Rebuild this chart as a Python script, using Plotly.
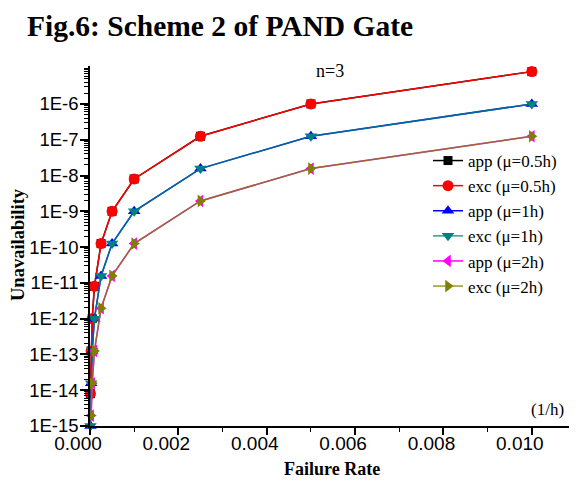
import plotly.graph_objects as go

# Data
failure_rate = [1e-5, 2.5e-5, 5e-5, 1e-4, 2.5e-4, 5e-4, 1e-3, 2.5e-3, 5e-3, 1e-2]
app_mu05 = [8e-15, 1.25e-13, 1e-12, 8e-12, 1.25e-10, 1e-9, 8e-9, 1.25e-7, 1e-6, 8e-6]
exc_mu05 = [8e-15, 1.25e-13, 1e-12, 8e-12, 1.25e-10, 1e-9, 8e-9, 1.25e-7, 1e-6, 8e-6]
app_mu1 = [1e-15, 1.56e-14, 1.25e-13, 1e-12, 1.56e-11, 1.25e-10, 1e-9, 1.56e-8, 1.25e-7, 1e-6]
exc_mu1 = [1e-15, 1.56e-14, 1.25e-13, 1e-12, 1.56e-11, 1.25e-10, 1e-9, 1.56e-8, 1.25e-7, 1e-6]
app_mu2 = [None, 1.95e-15, 1.56e-14, 1.25e-13, 1.95e-12, 1.56e-11, 1.25e-10, 1.95e-9, 1.56e-8, 1.25e-7]
exc_mu2 = [None, 1.95e-15, 1.56e-14, 1.25e-13, 1.95e-12, 1.56e-11, 1.25e-10, 1.95e-9, 1.56e-8, 1.25e-7]

names = ["app (μ=0.5h)", "exc (μ=0.5h)", "app (μ=1h)", "exc (μ=1h)", "app (μ=2h)", "exc (μ=2h)"]
series = [app_mu05, exc_mu05, app_mu1, exc_mu1, app_mu2, exc_mu2]
line_colors = ["#000000", "#FF0000", "#0000FF", "rgba(0,128,128,0.8)", "#FF00FF", "rgba(128,128,0,0.8)"]
marker_colors = ["#000000", "#FF0000", "#0000FF", "#008080", "#FF00FF", "#808000"]
symbols = ["square", "circle", "triangle-up", "triangle-down", "triangle-left", "triangle-right"]
sizes = [9, 11, 11, 11, 11, 11]

x_ticks = [0.0, 0.002, 0.004, 0.006, 0.008, 0.010]
x_ticktext = ["0.000", "0.002", "0.004", "0.006", "0.008", "0.010"]
y_ticks = [1e-15, 1e-14, 1e-13, 1e-12, 1e-11, 1e-10, 1e-9, 1e-8, 1e-7, 1e-6]
y_ticktext = ["1E-15", "1E-14", "1E-13", "1E-12", "1E-11", "1E-10", "1E-9", "1E-8", "1E-7", "1E-6"]

SERIF = "Liberation Serif"
SANS = "Liberation Sans"

# the page body has an 8px default margin; the figure is sized to fit the window
OFF = 8
PL, PR, PT, PB = 90, 576, 66, 426  # plot area in window pixels
W, H = 577 - OFF, 484 - OFF


def px(xw):
    return (xw - PL) / (PR - PL)


def py(yw):
    return (PB - yw) / (PB - PT)


fig = go.Figure()
for name, ys, lc, mc, sym, sz in zip(names, series, line_colors, marker_colors, symbols, sizes):
    fig.add_trace(go.Scatter(
        x=failure_rate, y=ys, name=name, mode="lines+markers",
        line=dict(color=lc, width=1.5),
        marker=dict(color=mc, symbol=sym, size=sz, line=dict(width=0)),
        cliponaxis=False,
    ))

minor_y = [m * 10.0 ** e for e in range(-15, -4) for m in range(2, 10)] + [1e-5]

fig.update_layout(
    width=W, height=H,
    margin=dict(l=PL - OFF, r=W - (PR - OFF), t=PT - OFF, b=H - (PB - OFF), autoexpand=False),
    paper_bgcolor="white", plot_bgcolor="white",
    showlegend=True,
    legend=dict(
        x=px(428), y=py(143), xanchor="left", yanchor="top",
        font=dict(family=SERIF, size=17, color="black"),
        bgcolor="rgba(0,0,0,0)", borderwidth=0,
        tracegroupgap=0,
    ),
    xaxis=dict(
        range=[0, 0.011], showgrid=False, zeroline=False, automargin=False,
        showline=True, linecolor="black", linewidth=1.5,
        ticks="outside", ticklen=7, tickwidth=1.5, tickcolor="black",
        tickvals=x_ticks, ticktext=x_ticktext,
        tickfont=dict(family=SANS, size=19, color="black"),
        ticklabelshift=-12, ticklabelstandoff=-8,
        minor=dict(dtick=0.001, ticks="outside", ticklen=4, tickwidth=1, tickcolor="black", showgrid=False),
    ),
    yaxis=dict(
        type="log", range=[-15, -4.94], showgrid=False, zeroline=False, automargin=False,
        showline=True, linecolor="black", linewidth=1.5,
        ticks="outside", ticklen=8, tickwidth=1.5, tickcolor="black",
        tickvals=y_ticks, ticktext=y_ticktext,
        tickfont=dict(family=SANS, size=18.5, color="black"),
        ticklabelstandoff=-2,
        minor=dict(tickmode="array", tickvals=minor_y, ticks="outside", ticklen=4,
                   tickwidth=1, tickcolor="black", showgrid=False),
    ),
    annotations=[
        dict(text="<b>Fig.6: Scheme 2 of PAND Gate</b>", xref="paper", yref="paper",
             x=px(25), y=py(8), xanchor="left", yanchor="top",
             showarrow=False, font=dict(family=SERIF, size=29.5, color="black")),
        dict(text="n=3", xref="paper", yref="paper",
             x=px(329.5), y=py(71), xanchor="center", yanchor="middle",
             showarrow=False, font=dict(family=SERIF, size=18, color="black")),
        dict(text="(1/h)", xref="paper", yref="paper",
             x=px(547.5), y=py(409), xanchor="center", yanchor="middle",
             showarrow=False, font=dict(family=SERIF, size=17, color="black")),
        dict(text="<b>Failure Rate</b>", xref="paper", yref="paper",
             x=px(332), y=py(469), xanchor="center", yanchor="middle",
             showarrow=False, font=dict(family=SERIF, size=18, color="black")),
        dict(text="<b>Unavailability</b>", xref="paper", yref="paper",
             x=px(18), y=py(245), xanchor="center", yanchor="middle",
             textangle=-90, showarrow=False, font=dict(family=SERIF, size=18.5, color="black")),
    ],
)

fig.write_html("out.html")
